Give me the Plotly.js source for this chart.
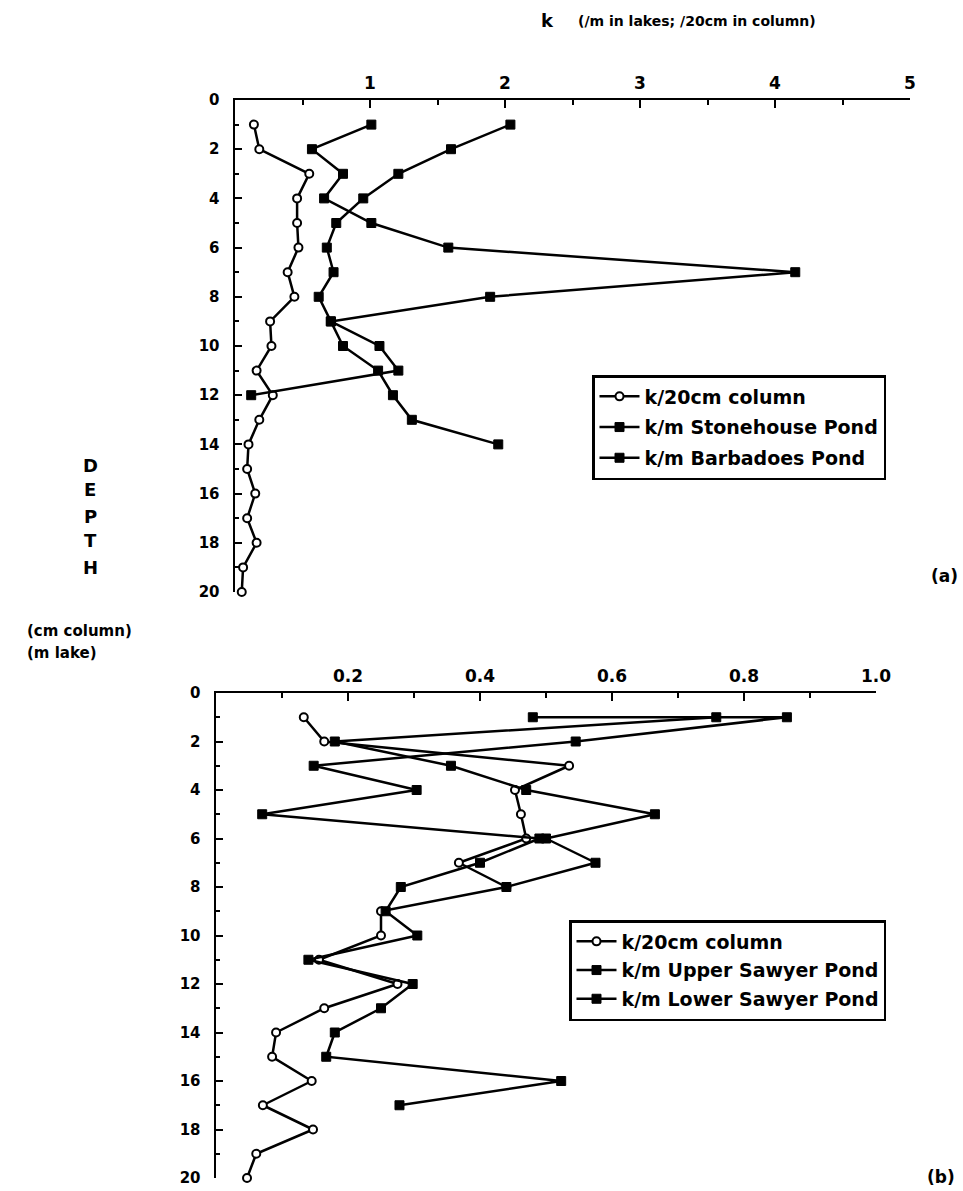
<!DOCTYPE html>
<html>
<head>
<meta charset="utf-8">
<script src="https://cdn.plot.ly/plotly-3.0.1.min.js"></script>
<style>html,body{margin:0;padding:0;background:#fff;}#chart{width:963px;height:1191px;}</style>
</head>
<body>
<div id="chart"></div>
<script>
// ---- Panel (a) data ----
const colA_depth = [1,2,3,4,5,6,7,8,9,10,11,12,13,14,15,16,17,18,19,20];
const colA_k     = [0.14,0.18,0.55,0.46,0.46,0.47,0.39,0.44,0.26,0.27,0.16,0.28,0.18,0.10,0.09,0.15,0.09,0.16,0.06,0.05];
const stonehouse_depth = [1,2,3,4,5,6,7,8,9,10,11,12];
const stonehouse_k     = [1.01,0.57,0.80,0.66,1.01,1.58,4.15,1.89,0.71,1.07,1.21,0.12];
const barbadoes_depth  = [1,2,3,4,5,6,7,8,9,10,11,12,13,14];
const barbadoes_k      = [2.04,1.60,1.21,0.95,0.75,0.68,0.73,0.62,0.71,0.80,1.06,1.17,1.31,1.95];

// ---- Panel (b) data ----
const colB_depth = [1,2,3,4,5,6,7,8,9,10,11,12,13,14,15,16,17,18,19,20];
const colB_k     = [0.133,0.164,0.535,0.453,0.462,0.47,0.368,0.44,0.25,0.25,0.156,0.275,0.164,0.091,0.085,0.145,0.071,0.147,0.061,0.047];
const upper_depth = [1,2,3,4,5,6,7,8];
const upper_k     = [0.758,0.18,0.356,0.47,0.665,0.50,0.575,0.44];
const lower_depth = [1,1,2,3,4,5,6,7,8,9,10,11,12,13,14,15,16,17];
const lower_k     = [0.48,0.865,0.545,0.148,0.304,0.07,0.49,0.40,0.28,0.257,0.305,0.14,0.298,0.25,0.18,0.167,0.523,0.278];

// ---- tick labels ----
const xTicksA = [1,2,3,4,5];
const xTickTextA = ['1','2','3','4','5'];
const xTicksB = [0.2,0.4,0.6,0.8,1.0];
const xTickTextB = ['0.2','0.4','0.6','0.8','1.0'];
const yTicks = [0,2,4,6,8,10,12,14,16,18,20];
const yTickText = yTicks.map(String);

const FONT = 'DejaVu Sans, Liberation Sans, sans-serif';
const lineStyle = {color:'black', width:2.5};
const openMarker = {symbol:'circle', size:8, color:'white', line:{color:'black', width:2}};
const fillMarker = {symbol:'square', size:9, color:'black', line:{color:'black', width:1}};

function tr(x, y, name, marker, xa, ya, leg, grp){
  return {x:x, y:y, name:name, type:'scatter', mode:'lines+markers',
    line:lineStyle, marker:marker, xaxis:xa, yaxis:ya, legend:leg, legendgroup:grp, cliponaxis:false};
}

const data = [
  tr(colA_k, colA_depth, 'k/20cm column', openMarker, 'x', 'y', 'legend', 'a1'),
  tr(stonehouse_k, stonehouse_depth, 'k/m Stonehouse Pond', fillMarker, 'x', 'y', 'legend', 'a2'),
  tr(barbadoes_k, barbadoes_depth, 'k/m Barbadoes Pond', fillMarker, 'x', 'y', 'legend', 'a3'),
  tr(colB_k, colB_depth, 'k/20cm column', openMarker, 'x2', 'y2', 'legend2', 'b1'),
  tr(upper_k, upper_depth, 'k/m Upper Sawyer Pond', fillMarker, 'x2', 'y2', 'legend2', 'b2'),
  tr(lower_k, lower_depth, 'k/m Lower Sawyer Pond', fillMarker, 'x2', 'y2', 'legend2', 'b3')
];

const W = 963, H = 1191;
function xd(a,b){return [a/W, b/W];}
function yd(top,bot){return [1-bot/H, 1-top/H];}

const tickFontX = {family:FONT, size:17, color:'black', weight:'bold'};
const tickFontY = {family:FONT, size:15, color:'black', weight:'bold'};

function xaxis(domain, range, tv, tt, minorD, anchor){
  return {domain:domain, range:range, side:'top', anchor:anchor,
    showline:true, linecolor:'black', linewidth:2.5, showgrid:false, zeroline:false,
    ticks:'inside', ticklen:8, tickwidth:2, tickcolor:'black',
    tickvals:tv, ticktext:tt, tickfont:tickFontX, ticklabelstandoff:2,
    minor:{dtick:minorD, tick0:0, ticks:'inside', ticklen:5, tickwidth:2, tickcolor:'black', showgrid:false}};
}
function yaxis(domain, anchor){
  return {domain:domain, range:[20,0], anchor:anchor,
    showline:true, linecolor:'black', linewidth:2.5, showgrid:false, zeroline:false,
    ticks:'inside', ticklen:7, tickwidth:2, tickcolor:'black',
    tickvals:yTicks, ticktext:yTickText, tickfont:tickFontY, ticklabelstandoff:10,
    minor:{dtick:1, tick0:0, ticks:'inside', ticklen:4, tickwidth:2, tickcolor:'black', showgrid:false}};
}

const legFont = {family:FONT, size:19, color:'black', weight:'bold'};

const ann = (text, x, y, size, xanchor) => ({text:text, x:x/W, y:1-y/H, xref:'paper', yref:'paper',
  showarrow:false, xanchor:xanchor||'center', yanchor:'middle',
  font:{family:FONT, size:size, color:'black', weight:'bold'}});

const layout = {
  width:W, height:H, margin:{l:0,r:0,t:0,b:0},
  paper_bgcolor:'white', plot_bgcolor:'white', showlegend:true,
  xaxis: xaxis(xd(235,910), [0,5], xTicksA, xTickTextA, 0.5, 'y'),
  yaxis: yaxis(yd(100,592), 'x'),
  xaxis2: xaxis(xd(216,876), [0,1], xTicksB, xTickTextB, 0.1, 'y2'),
  yaxis2: yaxis(yd(693,1178), 'x2'),
  legend:{x:592/W, y:1-375/H, xanchor:'left', yanchor:'top', bgcolor:'white',
    bordercolor:'black', borderwidth:2.5, font:legFont, itemwidth:40, tracegroupgap:3},
  legend2:{x:569/W, y:1-920/H, xanchor:'left', yanchor:'top', bgcolor:'white',
    bordercolor:'black', borderwidth:2.5, font:legFont, itemwidth:40, tracegroupgap:1},
  annotations:[
    ann('k', 547, 20, 18),
    ann('(/m in lakes; /20cm in column)', 697, 21, 14),
    ann('D', 90, 465, 18), ann('E', 90, 490, 18), ann('P', 90, 516, 18),
    ann('T', 90, 541, 18), ann('H', 90, 567, 18),
    ann('(cm column)', 25, 631, 15, 'left'),
    ann('(m lake)', 25, 653, 15, 'left'),
    ann('(a)', 944, 576, 17),
    ann('(b)', 941, 1177, 17)
  ]
};

Plotly.newPlot('chart', data, layout, {displayModeBar:false, staticPlot:true});
</script>
</body>
</html>
